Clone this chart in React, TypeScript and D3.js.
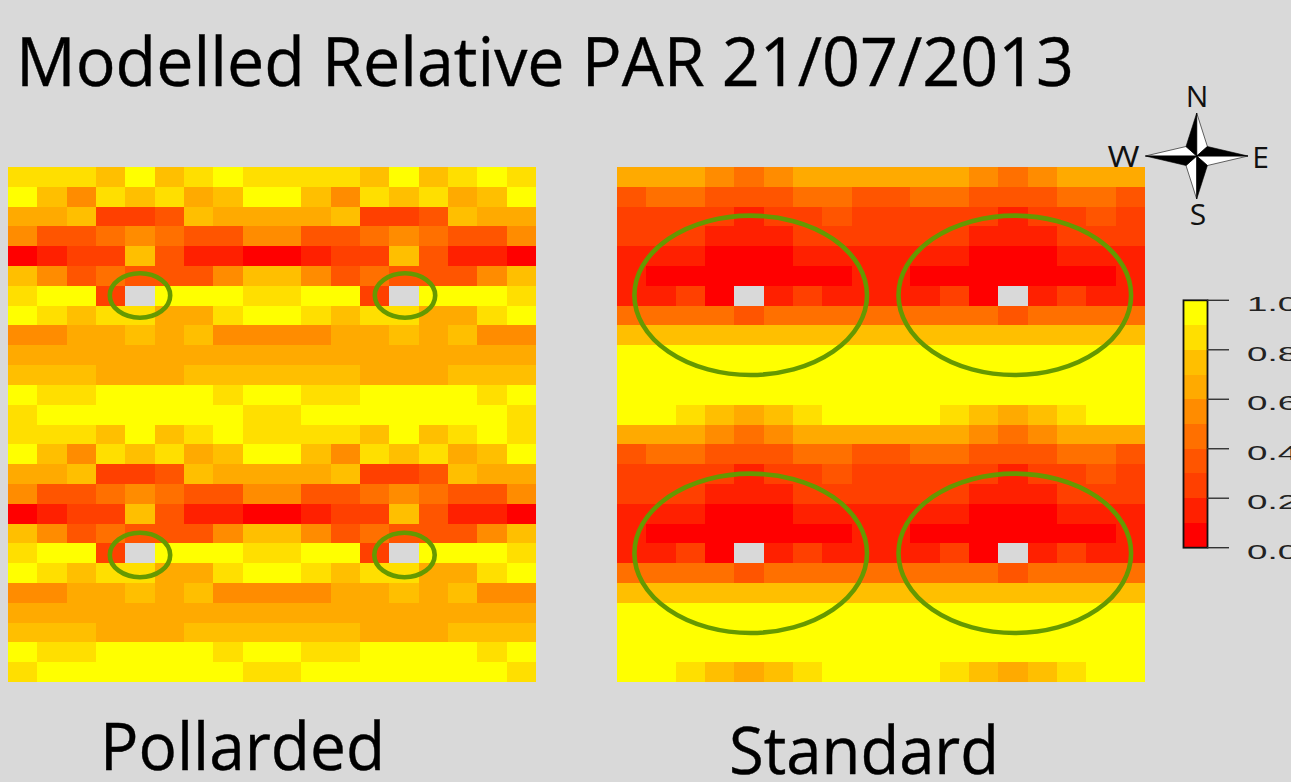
import React from "react";
import * as d3 from "d3";

const titleText = "Modelled Relative PAR 21/07/2013";
const panelNames = ["Pollarded", "Standard"];
const legendTicks = [0, 0.2, 0.4, 0.6, 0.8, 1.0];
const compassLabels = ["N", "E", "S", "W"];
const palette = ["#ff0000", "#ff2000", "#ff4000", "#ff5500", "#ff7000", "#ff8c00", "#ffaa00", "#ffbf00", "#ffdf00", "#ffff00"];

// One repeating block of relative PAR (9 columns x 13 rows); null = tree position
const pollardedBlock: (number | null)[][] = [
  [0.85, 0.85, 0.85, 0.75, 0.95, 0.75, 0.85, 0.95, 0.85],
  [0.95, 0.75, 0.55, 0.85, 0.75, 0.85, 0.65, 0.75, 0.95],
  [0.65, 0.65, 0.75, 0.25, 0.25, 0.35, 0.75, 0.65, 0.65],
  [0.55, 0.35, 0.35, 0.45, 0.55, 0.45, 0.35, 0.35, 0.55],
  [0.05, 0.15, 0.25, 0.25, 0.75, 0.35, 0.15, 0.15, 0.05],
  [0.75, 0.55, 0.35, 0.45, 0.35, 0.35, 0.35, 0.55, 0.75],
  [0.85, 0.95, 0.95, 0.25, null, 0.95, 0.95, 0.95, 0.85],
  [0.95, 0.85, 0.75, 0.85, 0.85, 0.65, 0.65, 0.85, 0.95],
  [0.55, 0.55, 0.65, 0.65, 0.75, 0.65, 0.75, 0.55, 0.55],
  [0.65, 0.65, 0.65, 0.65, 0.65, 0.65, 0.65, 0.65, 0.65],
  [0.75, 0.75, 0.75, 0.65, 0.65, 0.65, 0.75, 0.75, 0.75],
  [0.95, 0.85, 0.85, 0.95, 0.95, 0.95, 0.95, 0.85, 0.95],
  [0.85, 0.95, 0.95, 0.95, 0.95, 0.95, 0.95, 0.95, 0.85],
];
const standardBlock: (number | null)[][] = [
  [0.65, 0.65, 0.65, 0.55, 0.45, 0.55, 0.65, 0.65, 0.65],
  [0.35, 0.45, 0.45, 0.35, 0.35, 0.35, 0.45, 0.45, 0.35],
  [0.25, 0.25, 0.25, 0.25, 0.15, 0.25, 0.25, 0.35, 0.25],
  [0.25, 0.25, 0.25, 0.15, 0.15, 0.15, 0.25, 0.25, 0.25],
  [0.15, 0.15, 0.15, 0.05, 0.05, 0.05, 0.15, 0.15, 0.15],
  [0.15, 0.05, 0.05, 0.05, 0.05, 0.05, 0.05, 0.05, 0.15],
  [0.15, 0.15, 0.25, 0.05, null, 0.15, 0.25, 0.15, 0.15],
  [0.45, 0.45, 0.45, 0.45, 0.35, 0.45, 0.45, 0.45, 0.45],
  [0.75, 0.75, 0.75, 0.75, 0.75, 0.75, 0.75, 0.75, 0.75],
  [0.95, 0.95, 0.95, 0.95, 0.95, 0.95, 0.95, 0.95, 0.95],
  [0.95, 0.95, 0.95, 0.95, 0.95, 0.95, 0.95, 0.95, 0.95],
  [0.95, 0.95, 0.95, 0.95, 0.95, 0.95, 0.95, 0.95, 0.95],
  [0.95, 0.95, 0.85, 0.75, 0.65, 0.75, 0.85, 0.95, 0.95],
];

const BG = "#d9d9d9";
const GREEN = "#669900";
const FONT = "'Open Sans', 'Noto Sans', sans-serif";
const color = d3.scaleQuantize<string>().domain([0, 1]).range(palette);
const COLS = d3.range(18);
const ROWS = d3.range(26);
const yScale = d3.scaleLinear().domain([0, 26]).range([167, 682]);

function Heat({ block, x0, circles, rx, ry }: any) {
  const x = d3.scaleLinear().domain([0, 18]).range([x0, x0 + 528]);
  return (
    <g>
      <g shapeRendering="crispEdges">
        {ROWS.flatMap((r) =>
          COLS.map((c) => {
            const v = block[r % 13][c % 9];
            return (
              <rect key={`${r}-${c}`} x={x(c)} y={yScale(r)} width={x(c + 1) - x(c)} height={yScale(r + 1) - yScale(r)}
                fill={v === null ? BG : color(v)} />
            );
          })
        )}
      </g>
      {circles.map(([cx, cy]: number[], i: number) => (
        <ellipse key={i} cx={cx} cy={cy} rx={rx} ry={ry} fill="none" stroke={GREEN} strokeWidth={4.6} />
      ))}
    </g>
  );
}

function Legend() {
  const y = d3.scaleLinear().domain([0, 1]).range([547.7, 300.3]);
  const bands = d3.range(10);
  return (
    <g>
      <g shapeRendering="crispEdges">
        {bands.map((b) => (
          <rect key={b} x={1183.5} y={y((b + 1) / 10)} width={24} height={y(b / 10) - y((b + 1) / 10)} fill={palette[b]} />
        ))}
      </g>
      <rect x={1183.5} y={300.3} width={24} height={247.4} fill="none" stroke="#111" strokeWidth={1.8} />
      {legendTicks.map((t) => (
        <g key={t}>
          <line x1={1207} x2={1229} y1={y(t)} y2={y(t)} stroke="#333" strokeWidth={1.4} />
          <text transform={`translate(1247 ${y(t) + 11}) scale(1.75 1)`} fontFamily="'Liberation Sans', sans-serif" fontSize={21} fill="#222">
            {t.toFixed(1)}
          </text>
        </g>
      ))}
    </g>
  );
}

function Compass() {
  const cx = 1196.7, cy = 156;
  const tipX = 51.3, tipY = 43, inX = 10.7, inY = 9.5;
  const shape = d3.line();
  const tri = (pts: [number, number][], fill: string, i: number) => (
    <path key={i} d={shape(pts.map(([a, b]) => [cx + a, cy + b] as [number, number])) + "Z"} fill={fill} stroke="#000" strokeWidth={0.6} strokeLinejoin="round" />
  );
  const black: [number, number][][] = [
    [[0, -tipY], [-inX, -inY], [0, 0]],
    [[tipX, 0], [inX, -inY], [0, 0]],
    [[0, tipY], [inX, inY], [0, 0]],
    [[-tipX, 0], [-inX, inY], [0, 0]],
  ];
  const white: [number, number][][] = [
    [[0, -tipY], [inX, -inY], [0, 0]],
    [[tipX, 0], [inX, inY], [0, 0]],
    [[0, tipY], [-inX, inY], [0, 0]],
    [[-tipX, 0], [-inX, -inY], [0, 0]],
  ];
  const pos = [[1197, 107], [1260.5, 168], [1198, 225], [1123.5, 167]];
  return (
    <g>
      {white.map((p, i) => tri(p, "#fff", i))}
      {black.map((p, i) => tri(p, "#000", i + 4))}
      {compassLabels.map((l, i) => (
        <text key={l} x={pos[i][0]} y={pos[i][1]} textAnchor="middle" fontFamily={FONT} fontSize={30} fill="#111"
          {...(l === "W" ? { textLength: 32, lengthAdjust: "spacingAndGlyphs" } : {})}>{l}</text>
      ))}
    </g>
  );
}

export default function App() {
  const leftCircles = [[140, 295.5], [405, 295.5], [140, 555], [404.5, 555]];
  const rightCircles = [[750.7, 295.3], [1014.8, 295.3], [750.7, 553.3], [1014.8, 553.3]];
  return (
    <svg width={1291} height={782} viewBox="0 0 1291 782" style={{ position: "fixed", left: 0, top: 0, display: "block" }}>
      <rect width={1291} height={782} fill={BG} />
      <text x={16} y={86} fontFamily={FONT} fontSize={67} textLength={1058} lengthAdjust="spacingAndGlyphs" fill="#000" stroke="#000" strokeWidth={0.4}>{titleText}</text>
      <Heat block={pollardedBlock} x0={8} circles={leftCircles} rx={30.2} ry={22.2} />
      <Heat block={standardBlock} x0={617} circles={rightCircles} rx={116.3} ry={79.7} />
      <Compass />
      <Legend />
      <text x={100} y={770} fontFamily={FONT} fontSize={66} textLength={285} lengthAdjust="spacingAndGlyphs" fill="#000" stroke="#000" strokeWidth={0.4}>{panelNames[0]}</text>
      <text x={729} y={774} fontFamily={FONT} fontSize={66} textLength={270} lengthAdjust="spacingAndGlyphs" fill="#000" stroke="#000" strokeWidth={0.4}>{panelNames[1]}</text>
    </svg>
  );
}
